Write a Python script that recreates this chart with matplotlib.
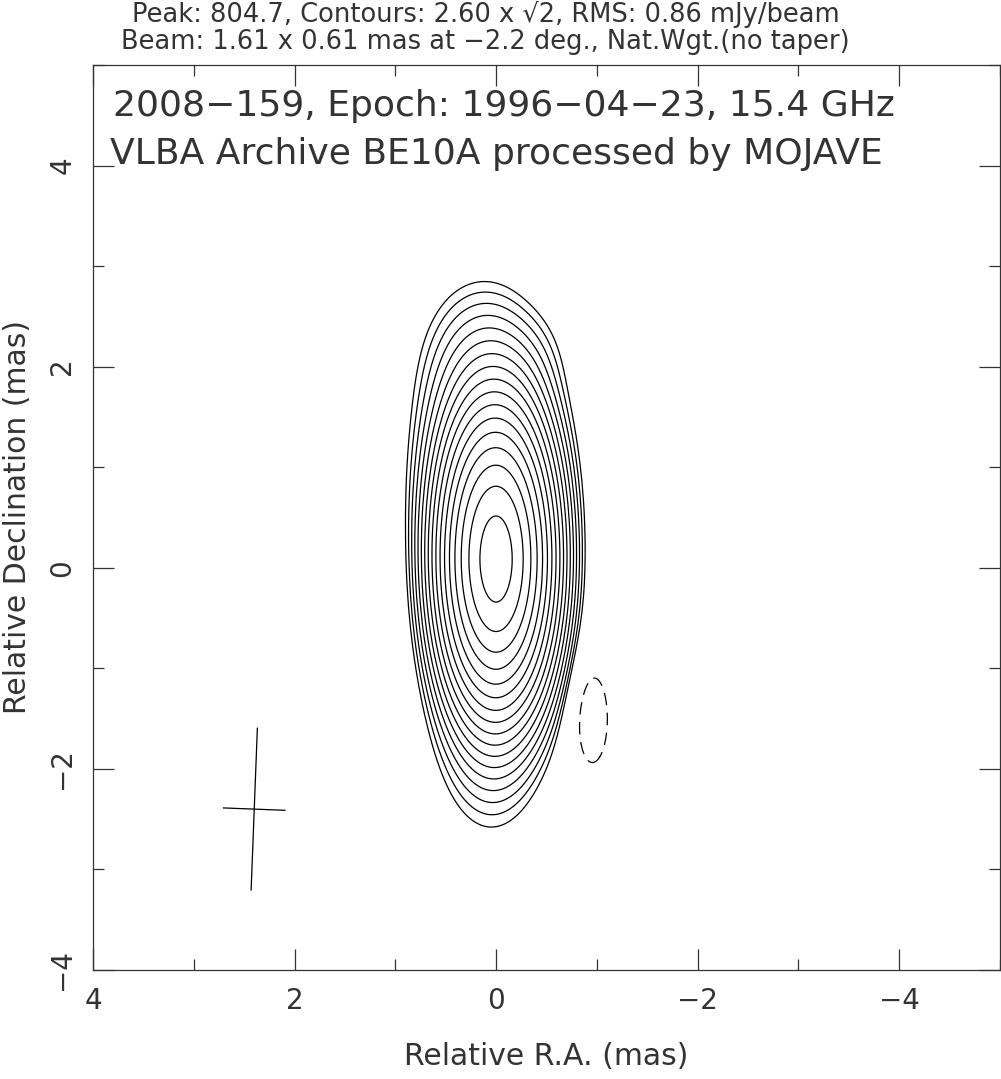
import numpy as np
import matplotlib
matplotlib.use('Agg')
import matplotlib.pyplot as plt
from matplotlib.ticker import MultipleLocator

# ---- header values ----
peak = 804.7
base_level = 2.60
rms = 0.86
beam_maj, beam_min, beam_pa = 1.61, 0.61, -2.2
beam_center_x, beam_center_y = 2.4, -2.4

# ---- source model components ----
comp_x = [0.0, 0.07, 0.18, 0.03, 0.08, -0.95, -0.45]
comp_y = [0.08, 1.1, 2.1, -1.0, -1.75, -1.5, 2.1]
comp_flux = [770.0, 24.0, 4.2, 10.0, 3.0, -4.0, 1.0]
comp_fwhm_y = [1.61, 1.61, 1.2, 1.61, 1.61, 1.1, 0.8]
comp_fwhm_x = [0.61, 0.82, 0.85, 0.70, 0.80, 0.38, 0.5]

x_ticks = [4, 2, 0, -2, -4]
y_ticks = [-4, -2, 0, 2, 4]

xs = np.linspace(-5, 4, 451)
ys = np.linspace(-4, 5, 451)
X, Y = np.meshgrid(xs, ys)
img = np.zeros_like(X)
f = 2 * np.sqrt(2 * np.log(2))
for cx, cy, fl, fy, fx in zip(comp_x, comp_y, comp_flux, comp_fwhm_y, comp_fwhm_x):
    sx, sy = fx / f, fy / f
    img += fl * np.exp(-0.5 * (((X - cx) / sx) ** 2 + ((Y - cy) / sy) ** 2))
img *= peak / img.max()

n_levels = int(np.floor(np.log(peak / base_level) / np.log(np.sqrt(2)))) + 1
pos_levels = [base_level * np.sqrt(2) ** i for i in range(n_levels)]

tc = '#333333'
fig = plt.figure(figsize=(10.01, 10.79), dpi=100)
ax = fig.add_axes([93 / 1001, 1 - 970 / 1079, 907 / 1001, 905 / 1079])
ax.contour(X, Y, img, levels=pos_levels, colors='black', linewidths=0.9)
ax.contour(X, Y, img, levels=[-base_level], colors='black', linewidths=0.9,
           linestyles=[(0, (10, 6))])

# beam cross
pa = np.deg2rad(beam_pa)
dx_maj, dy_maj = np.sin(pa) * beam_maj / 2, np.cos(pa) * beam_maj / 2
dx_min, dy_min = np.cos(pa) * beam_min / 2, -np.sin(pa) * beam_min / 2
ax.plot([beam_center_x - dx_maj, beam_center_x + dx_maj],
        [beam_center_y - dy_maj, beam_center_y + dy_maj], color='black', lw=0.9)
ax.plot([beam_center_x - dx_min, beam_center_x + dx_min],
        [beam_center_y - dy_min, beam_center_y + dy_min], color='black', lw=0.9)

ax.set_xlim(4, -5)
ax.set_ylim(-4, 5)
ax.set_xticks(x_ticks)
ax.set_yticks(y_ticks)
ax.xaxis.set_minor_locator(MultipleLocator(1))
ax.yaxis.set_minor_locator(MultipleLocator(1))
ax.tick_params(which='both', direction='in', top=True, right=True, color=tc)
ax.tick_params(which='major', length=15, width=0.9, labelsize=20, pad=12, labelcolor=tc)
ax.tick_params(which='minor', length=8, width=0.9)
for lab in ax.get_yticklabels():
    lab.set_rotation(90)
    lab.set_va('center')
for s in ax.spines.values():
    s.set_linewidth(0.9)
    s.set_color(tc)

ax.set_xlabel('Relative R.A. (mas)', fontsize=21.5, color=tc, labelpad=20)
ax.set_ylabel('Relative Declination (mas)', fontsize=21.5, color=tc, labelpad=12)

fig.text(0.485, 1 - 14 / 1079, 'Peak: 804.7, Contours: 2.60 x \u221a2, RMS: 0.86 mJy/beam',
         ha='center', va='center', fontsize=18.5, color=tc)
fig.text(0.485, 1 - 42 / 1079, 'Beam: 1.61 x 0.61 mas at \u22122.2 deg., Nat.Wgt.(no taper)',
         ha='center', va='center', fontsize=18.5, color=tc)
ax.text(0.022, 0.955, '2008\u2212159, Epoch: 1996\u221204\u221223, 15.4 GHz', transform=ax.transAxes,
        ha='left', va='center', fontsize=26, color=tc)
ax.text(0.019, 0.902, 'VLBA Archive BE10A processed by MOJAVE', transform=ax.transAxes,
        ha='left', va='center', fontsize=26, color=tc)

fig.savefig('out.png', dpi=100)
